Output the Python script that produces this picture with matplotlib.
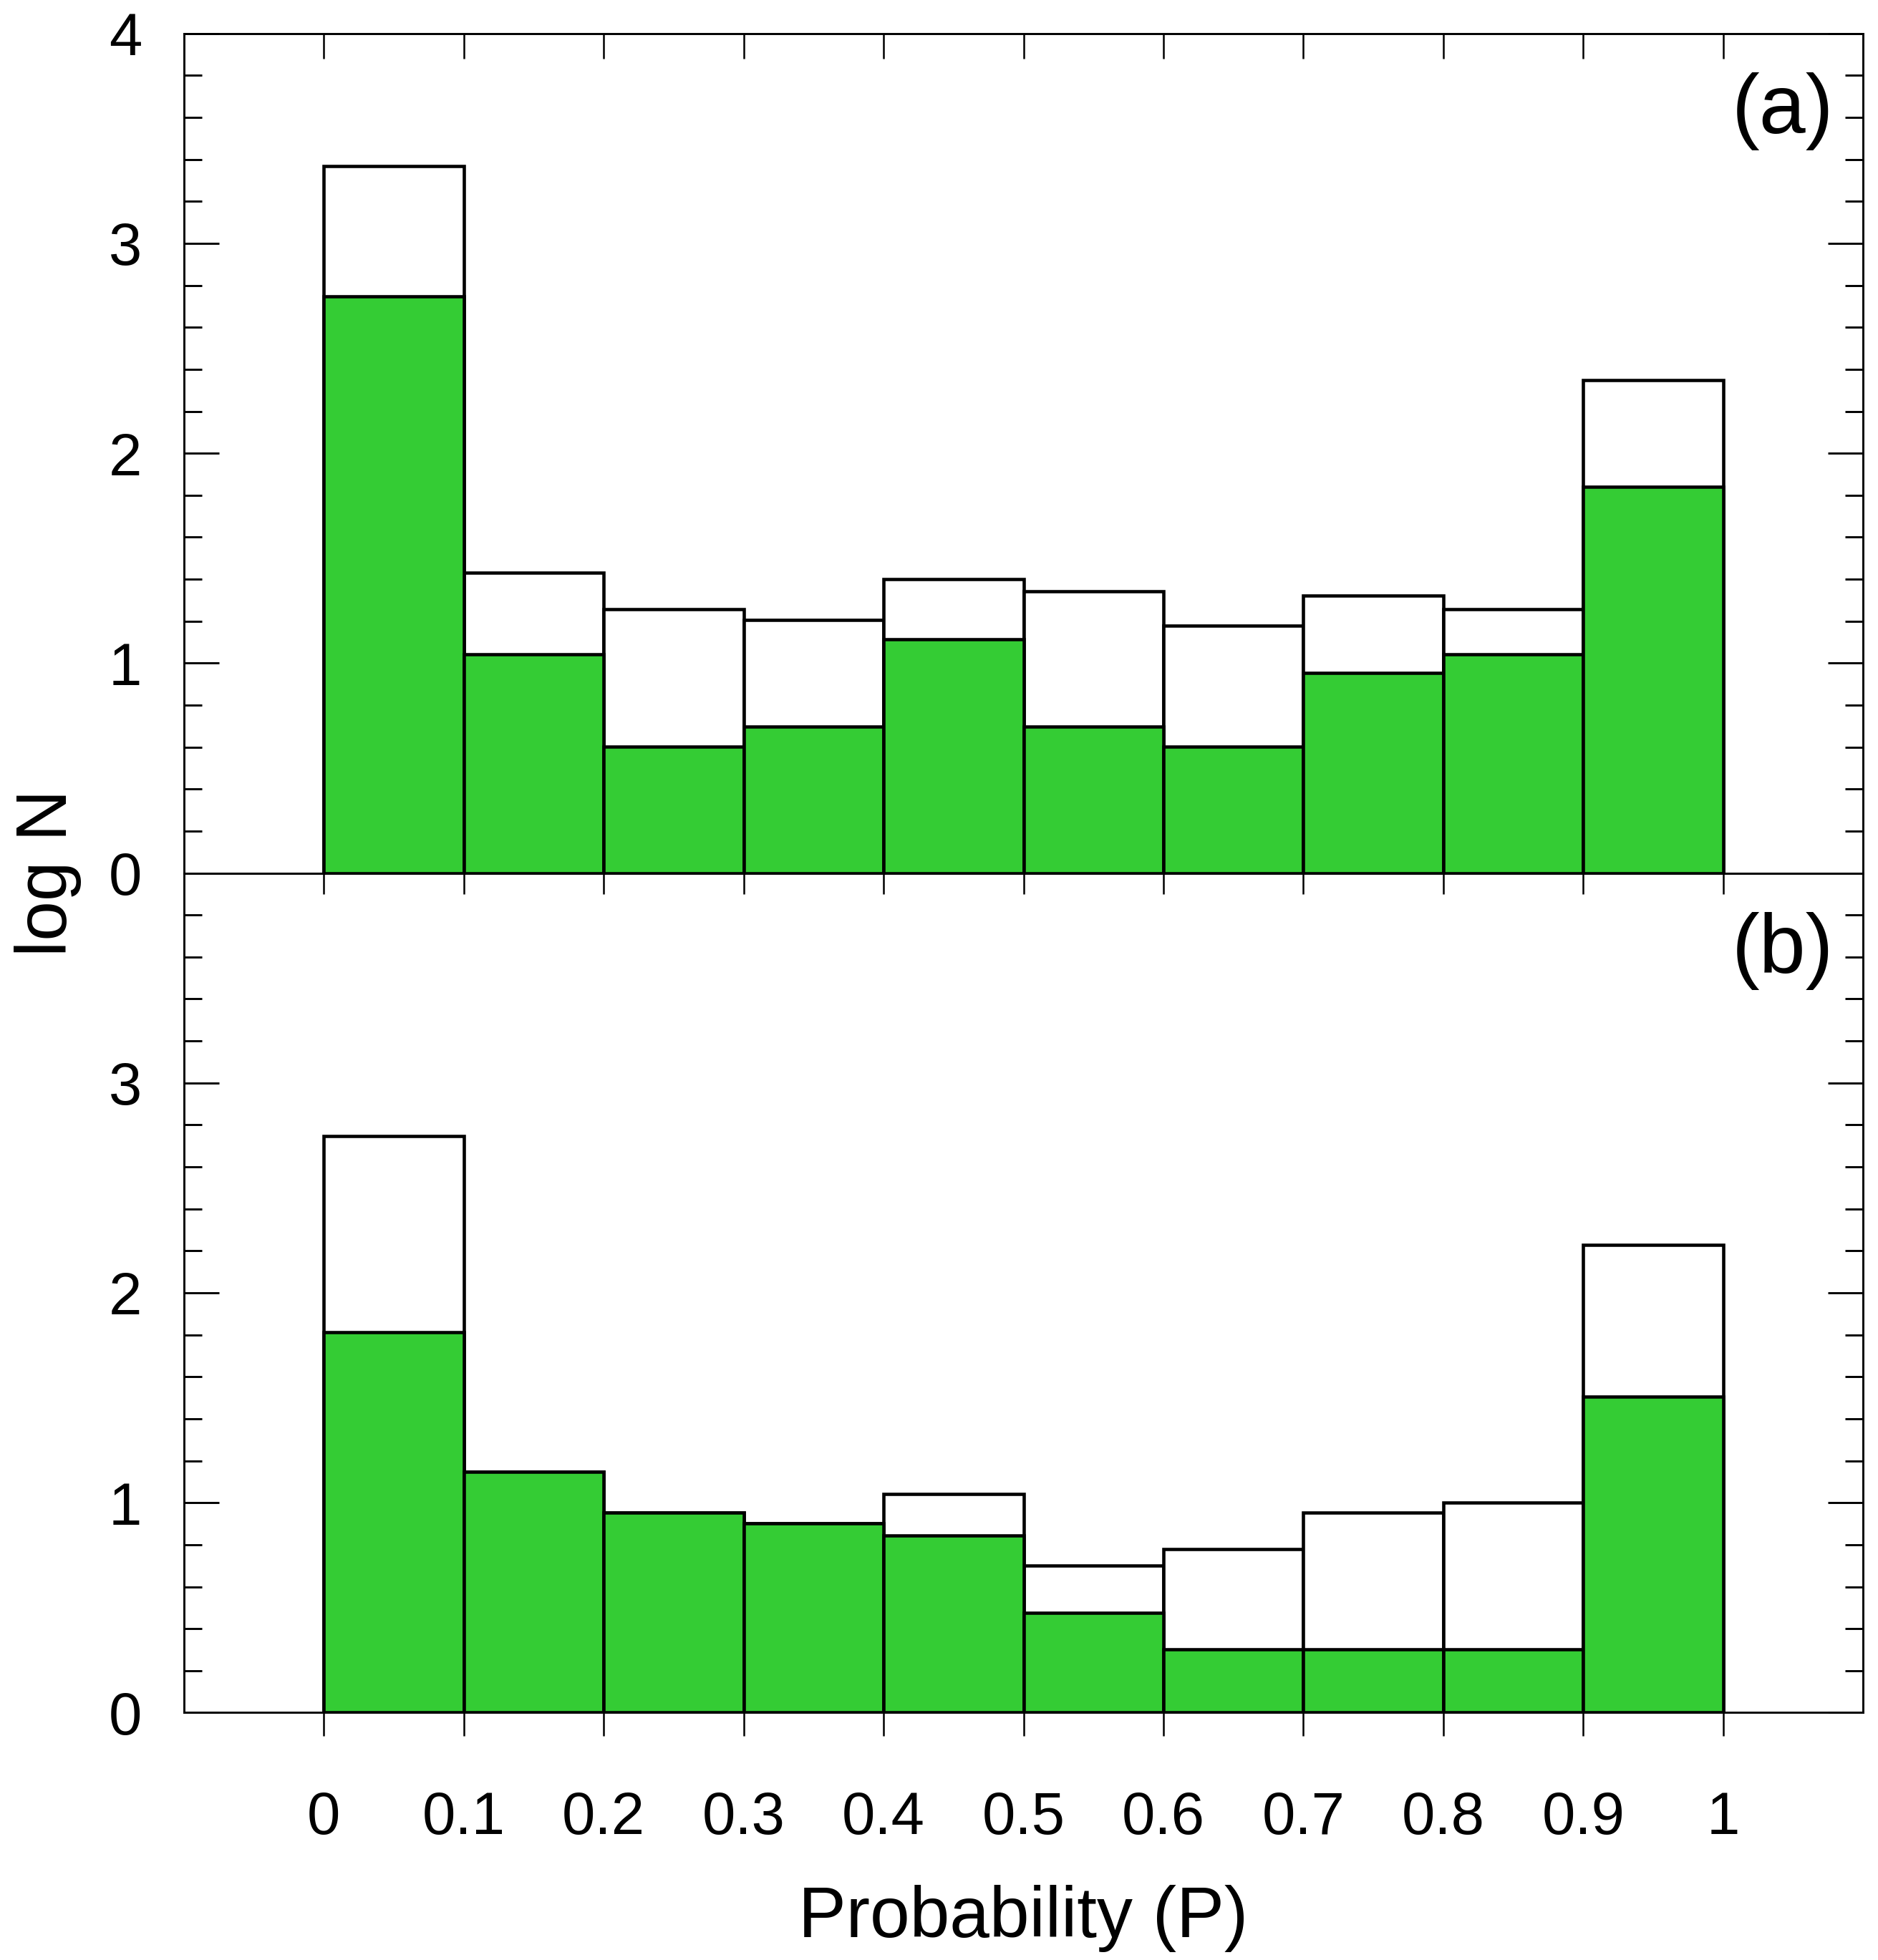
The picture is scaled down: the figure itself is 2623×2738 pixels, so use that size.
import matplotlib.pyplot as plt
from matplotlib.ticker import MultipleLocator, AutoMinorLocator

plt.rcParams["font.family"] = ["Liberation Sans", "DejaVu Sans"]

bin_left = [0.0, 0.1, 0.2, 0.3, 0.4, 0.5, 0.6, 0.7, 0.8, 0.9]
x_ticks = [0, 0.1, 0.2, 0.3, 0.4, 0.5, 0.6, 0.7, 0.8, 0.9, 1]
x_tick_labels = ["0", "0.1", "0.2", "0.3", "0.4", "0.5", "0.6", "0.7", "0.8", "0.9", "1"]

# panel (a): log N for all (white) and selected (green)
a_all = [3.367, 1.432, 1.256, 1.205, 1.399, 1.343, 1.178, 1.322, 1.256, 2.349]
a_sel = [2.747, 1.041, 0.602, 0.699, 1.114, 0.699, 0.602, 0.954, 1.041, 1.839]

# panel (b)
b_all = [2.747, 1.146, 0.954, 0.903, 1.041, 0.699, 0.778, 0.954, 1.000, 2.230]
b_sel = [1.813, 1.146, 0.954, 0.903, 0.845, 0.477, 0.301, 0.301, 0.301, 1.505]

green = "#34cc34"

fig = plt.figure(figsize=(2623 / 300, 2738 / 300), dpi=300)
left, right = 0.0979, 0.9921
bottom, mid, top = 0.1262, 0.5546, 0.9829
ax_a = fig.add_axes([left, mid, right - left, top - mid])
ax_b = fig.add_axes([left, bottom, right - left, mid - bottom])


def draw_panel(ax, all_vals, sel_vals, tag):
    ax.bar(bin_left, all_vals, width=0.1, align="edge", color="white",
           edgecolor="black", linewidth=1.1, zorder=2)
    ax.bar(bin_left, sel_vals, width=0.1, align="edge", color=green,
           edgecolor="black", linewidth=1.1, zorder=3)
    ax.set_xlim(-0.1, 1.1)
    ax.set_ylim(0, 4)
    ax.yaxis.set_major_locator(MultipleLocator(1))
    ax.yaxis.set_minor_locator(AutoMinorLocator(5))
    ax.tick_params(axis="y", which="both", direction="in", left=True, right=True,
                   labelsize=20, pad=14, width=0.7)
    ax.tick_params(axis="y", which="major", length=11.7)
    ax.tick_params(axis="y", which="minor", length=5.9)
    for s in ax.spines.values():
        s.set_linewidth(0.7)
    ax.text(1.079, 3.525, tag, ha="right", va="baseline", fontsize=28)


draw_panel(ax_a, a_all, a_sel, "(a)")
draw_panel(ax_b, b_all, b_sel, "(b)")

ax_a.set_xticks(x_ticks)
ax_a.tick_params(axis="x", which="both", top=True, bottom=False, direction="in",
                 labeltop=False, labelbottom=False, length=8.5, width=0.6)
ax_a.set_yticks([0, 1, 2, 3, 4])
ax_a.set_yticklabels(["0", "1", "2", "3", "4"])

ax_b.set_xticks(x_ticks)
ax_b.set_xticklabels(x_tick_labels)
ax_b.tick_params(axis="x", which="both", top=False, bottom=True, direction="out",
                 length=8, width=0.6, labelsize=20, pad=18)
ax_b.set_yticks([0, 1, 2, 3, 4])
ax_b.set_yticklabels(["0", "1", "2", "3", ""])
sec = ax_b.secondary_xaxis("top")
sec.set_xticks(x_ticks)
sec.tick_params(axis="x", direction="in", length=7, width=0.6, labeltop=False)
sec.spines["top"].set_linewidth(0.7)

ax_b.set_xlabel("Probability (P)", fontsize=24, labelpad=13)
fig.text(0.0255, 0.5546, "log N", rotation=90, ha="center", va="center", fontsize=24)

fig.savefig("out.png", dpi=300)
